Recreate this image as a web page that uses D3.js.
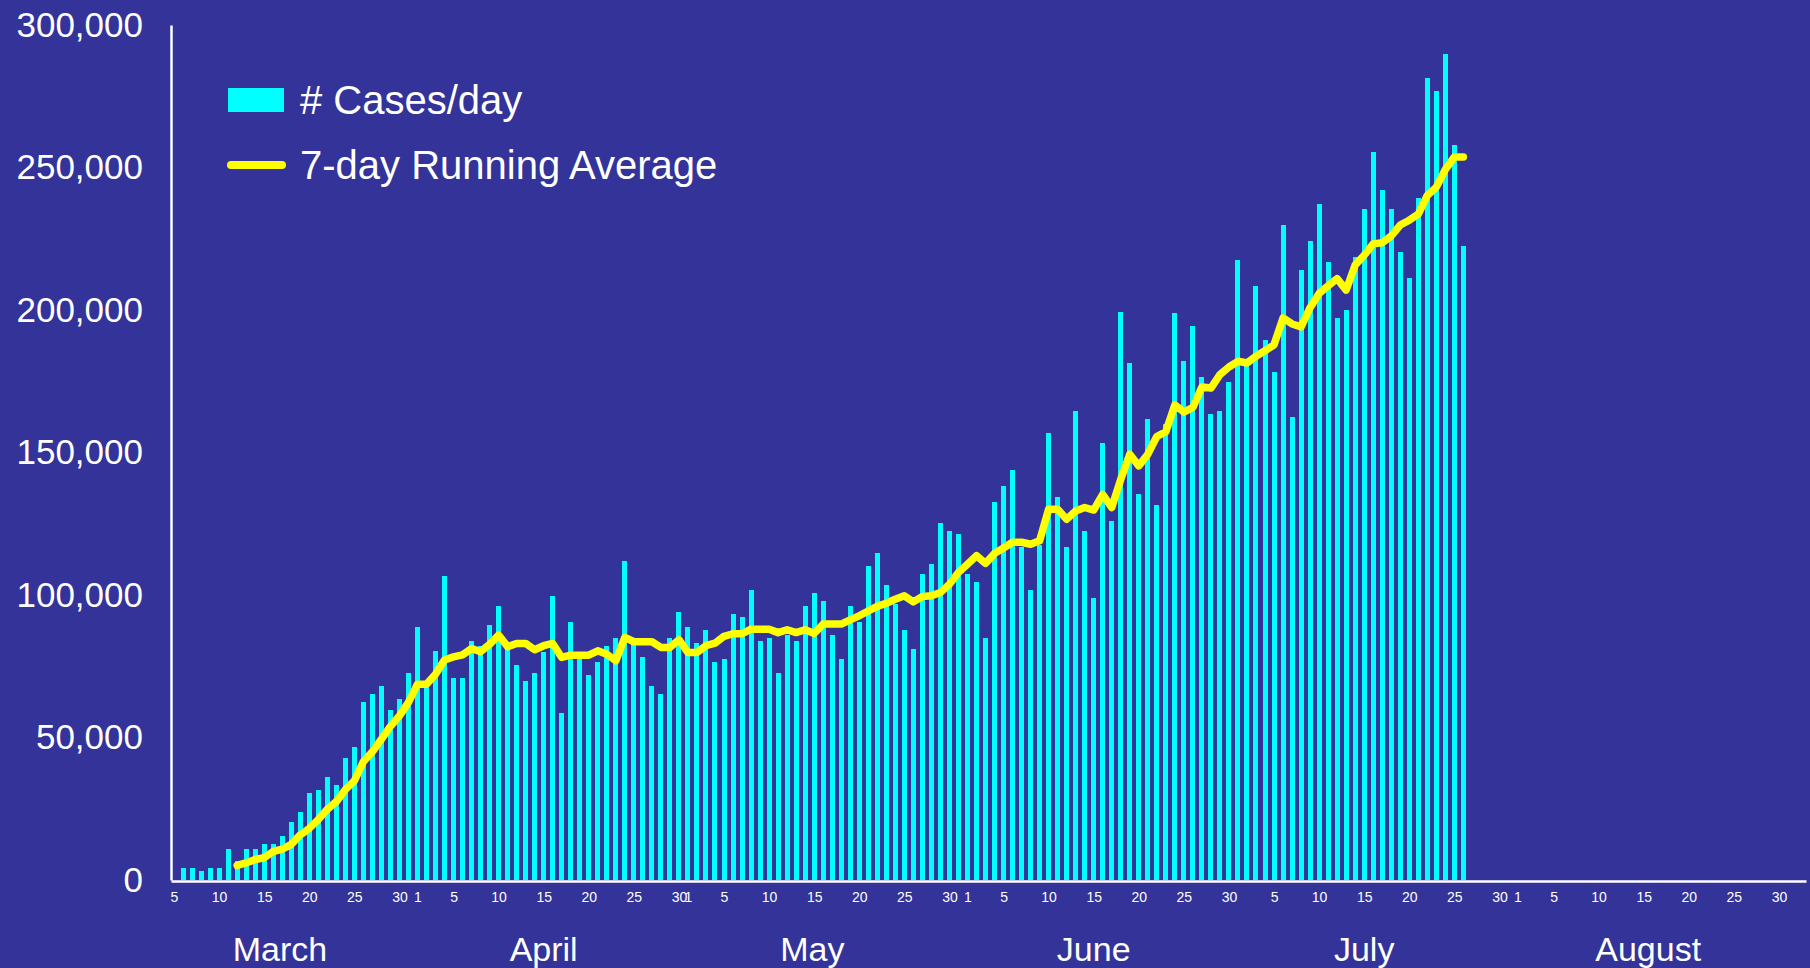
<!DOCTYPE html>
<html>
<head>
<meta charset="utf-8">
<script src="https://cdn.jsdelivr.net/npm/d3@7"></script>
<style>
  body { margin: 0; background: #333399; }
  svg { display: block; }
  text { font-family: "Liberation Sans", Arial, sans-serif; fill: #fff; }
</style>
</head>
<body>
<div id="chart"></div>
<script>
// data

var casesStart = Date.UTC(2020, 2, 6);   // first bar: March 6
var cases = [
  // March 6-31
  4300, 4300, 3300, 4300, 4300, 11000, 6500, 11000, 11000, 12800,
  12800, 15600, 20300, 24000, 30500, 31500, 36200, 33500, 42900, 46600,
  62500, 65300, 68100, 59700, 63500, 72800,
  // April
  88700, 68000, 80300, 106500, 70900, 70900, 84000, 82000, 89500, 96100,
  81000, 75500, 69900, 72700, 80000, 99800, 58700, 90500, 78000, 71800,
  76400, 82000, 84900, 112000, 83000, 78300, 68000, 65200, 84900, 94200,
  // May
  88600, 83000, 87700, 76400, 77400, 93300, 92300, 101700, 83900, 84900,
  72700, 85800, 83900, 96100, 100700, 97900, 85800, 77400, 96100, 90500,
  110100, 114800, 103500, 97000, 87700, 81100, 107300, 111000, 125100, 122300,
  121300,
  // June
  107300, 104500, 84900, 132500, 138200, 143800, 117000, 101800, 117700, 157000,
  134500, 116800, 164400, 122400, 99000, 153200, 126100, 199200, 181400, 135500,
  161600, 131700, 160000, 199000, 182200, 194400, 176500, 163500, 164500, 174700,
  // July 1-26
  217600, 182000, 208300, 189400, 178400, 229700, 162600, 214000, 224300, 237200,
  216800, 197100, 199900, 218600, 235500, 255300, 242000, 235500, 220500, 211200,
  239200, 281300, 276700, 289800, 258000, 222500
];

var avgStart = Date.UTC(2020, 2, 12);    // running average starts March 12
var avg = [
  // March 12-31
  5100, 6000, 7200, 7800, 10000, 10800, 12500, 15800, 18100, 21200,
  24800, 27500, 31700, 34800, 41500, 45000, 49400, 53900, 57600, 62300,
  // April
  68700, 68700, 72200, 77200, 78300, 79000, 81200, 80100, 82700, 85900,
  81900, 83000, 83000, 80800, 82200, 83000, 78100, 78900, 78900, 78900,
  80400, 79200, 76900, 85100, 83600, 83600, 83600, 81600, 81600, 84300,
  // May
  79800, 79800, 82200, 83100, 85500, 86400, 86400, 88000, 88000, 88000,
  86800, 87800, 86800, 87800, 86500, 89800, 89800, 89800, 91300, 92700,
  94400, 96000, 97100, 98500, 99700, 97600, 99500, 99700, 100900, 103800,
  107900,
  // June
  110800, 113800, 111100, 114600, 116500, 118500, 118500, 117800, 119000, 130100,
  130100, 126600, 129500, 130700, 129800, 135300, 130700, 140600, 149400, 145300,
  149400, 155600, 157300, 166700, 164200, 165800, 173000, 172600, 177300, 180000,
  // July 1-26
  182000, 181400, 183800, 185700, 187800, 197200, 195100, 194100, 200800, 205800,
  208500, 211000, 207000, 215800, 219200, 223200, 223600, 226000, 229800, 231500,
  233600, 240200, 243100, 249300, 253700, 253700
];

var yTicks = [0, 50000, 100000, 150000, 200000, 250000, 300000];

var months = ["March", "April", "May", "June", "July", "August"];
var monthIndex = [2, 3, 4, 5, 6, 7];
// where each month name sits, in days after the 1st of the month
var monthLabelDay = [15.75, 14, 13.8, 14, 14, 14.5];
var monthTickDays = [
  [5, 10, 15, 20, 25, 30],
  [1, 5, 10, 15, 20, 25, 30],
  [1, 5, 10, 15, 20, 25, 30],
  [1, 5, 10, 15, 20, 25, 30],
  [5, 10, 15, 20, 25, 30],
  [1, 5, 10, 15, 20, 25, 30]
];

var legendLabels = ["# Cases/day", "7-day Running Average"];

// set up chart

var width = 1810,
  height = 968;

var x0 = 171, x1 = 1806, yBase = 880, yTop = 25;

var svg = d3.select("#chart").append("svg")
    .attr("width", width)
    .attr("height", height);

svg.append("rect")
    .attr("width", width)
    .attr("height", height)
    .attr("fill", "#333399");

var x = d3.scaleUtc()
    .domain([Date.UTC(2020, 2, 4, 16), Date.UTC(2020, 8, 2)])
    .range([x0, x1]);

var y = d3.scaleLinear()
    .domain([0, 300000])
    .range([yBase, yTop]);

var barData = cases.map(function(v, i) {
  return { date: d3.utcDay.offset(new Date(casesStart), i), value: v };
});
var avgData = avg.map(function(v, i) {
  return { date: d3.utcDay.offset(new Date(avgStart), i), value: v };
});

// bars

var barW = 5;

svg.append("g")
    .attr("class", "bars")
    .selectAll("rect")
    .data(barData)
    .enter().append("rect")
    .attr("x", function(d) { return x(d.date) - barW / 2; })
    .attr("y", function(d) { return y(d.value); })
    .attr("width", barW)
    .attr("height", function(d) { return yBase - y(d.value); })
    .attr("fill", "#00ffff")
    .attr("shape-rendering", "crispEdges");

// running average

var line = d3.line()
    .x(function(d) { return x(d.date); })
    .y(function(d) { return y(d.value); });

svg.append("path")
    .datum(avgData)
    .attr("d", line)
    .attr("fill", "none")
    .attr("stroke", "#ffff00")
    .attr("stroke-width", 7.5)
    .attr("stroke-linejoin", "round")
    .attr("stroke-linecap", "round");

// y axis

var yAxis = svg.append("g")
    .attr("transform", "translate(" + x0 + ",0)")
    .call(d3.axisLeft(y)
      .tickValues(yTicks)
      .tickSize(0)
      .tickPadding(28)
      .tickFormat(d3.format(",")));

yAxis.select(".domain").attr("stroke", "#fff").attr("stroke-width", 2.5);
yAxis.selectAll("text")
    .style("font-size", "35px")
    .attr("fill", "#fff");

// x axis (day numbers)

var tickDates = [];
monthTickDays.forEach(function(days, m) {
  days.forEach(function(day) {
    tickDates.push(new Date(Date.UTC(2020, monthIndex[m], day)));
  });
});

var xAxis = svg.append("g")
    .attr("transform", "translate(0," + (yBase + 1) + ")")
    .call(d3.axisBottom(x)
      .tickValues(tickDates)
      .tickSize(0)
      .tickPadding(11)
      .tickFormat(d3.utcFormat("%-d")));

xAxis.select(".domain").attr("stroke", "#fff").attr("stroke-width", 2.5);
xAxis.selectAll("text")
    .style("font-size", "14px")
    .attr("fill", "#fff");

// month names

svg.append("g")
    .selectAll("text")
    .data(months)
    .enter().append("text")
    .attr("x", function(d, i) {
      return x(new Date(Date.UTC(2020, monthIndex[i], 1) + monthLabelDay[i] * 864e5));
    })
    .attr("y", 961)
    .attr("text-anchor", "middle")
    .style("font-size", "34px")
    .text(function(d) { return d; });

// legend

var legend = svg.append("g").attr("class", "legend");

legend.append("rect")
    .attr("x", 228)
    .attr("y", 88)
    .attr("width", 56)
    .attr("height", 24)
    .attr("fill", "#00ffff");

legend.append("line")
    .attr("x1", 231)
    .attr("x2", 282)
    .attr("y1", 165)
    .attr("y2", 165)
    .attr("stroke", "#ffff00")
    .attr("stroke-width", 8)
    .attr("stroke-linecap", "round");

legend.selectAll("text")
    .data(legendLabels)
    .enter().append("text")
    .attr("x", 300)
    .attr("y", function(d, i) { return i ? 179 : 114; })
    .style("font-size", "40px")
    .text(function(d) { return d; });
</script>
</body>
</html>
